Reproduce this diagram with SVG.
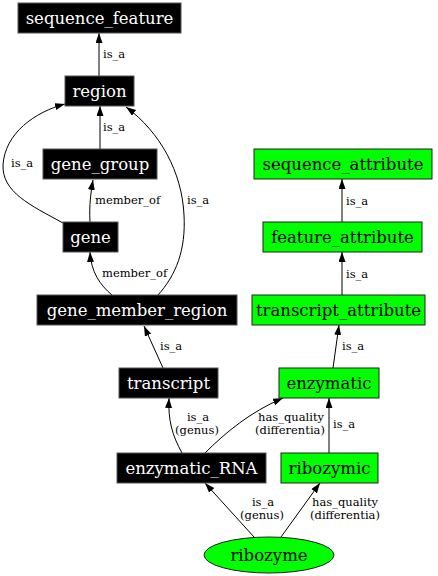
<svg xmlns="http://www.w3.org/2000/svg" width="438" height="576" viewBox="0 0 438 576">
<defs>
<marker id="arr" markerUnits="userSpaceOnUse" markerWidth="11" markerHeight="8" refX="10" refY="3.5" orient="auto">
<path d="M0,0 L10,3.5 L0,7 z" fill="#000"/>
</marker>
<style>
.bn rect{fill:#000;stroke:#555;stroke-width:1}
.gn rect,.gn ellipse{fill:#00ff00;stroke:#222;stroke-width:1}
.bn text{fill:#fff}
.gn text{fill:#000}
.node text{font-family:"DejaVu Serif",serif;font-size:16.5px;text-anchor:middle}
.edges path{fill:none;stroke:#000;stroke-width:1;marker-end:url(#arr)}
.edges text{font-family:"DejaVu Serif",serif;font-size:11.5px;fill:#000}
.edges text.m{text-anchor:middle}
</style>
</defs>
<rect width="438" height="576" fill="#fff"/>
<g id="edges" class="edges">
<path d="M99,76 L99,33"/>
<text x="103" y="58">is_a</text>
<path d="M100,149 L100,106"/>
<text x="103" y="131">is_a</text>
<path d="M63,223 C30,205 2,192 3,165 C5,133 35,112 65,104"/>
<text x="11" y="167">is_a</text>
<path d="M90,222 C89,205 91,192 93,180"/>
<text x="95" y="204">member_of</text>
<path d="M112,295 C100,285 91,272 90,252"/>
<text x="102" y="277">member_of</text>
<path d="M158,295 C176,275 186,250 184,215 C182,172 160,132 126,107"/>
<text x="187" y="204">is_a</text>
<path d="M163,368 L144,326"/>
<text x="160" y="350">is_a</text>
<path d="M182,453 C172,435 168,420 169,398"/>
<text class="m" x="198" y="421">is_a</text>
<text class="m" x="197" y="434">(genus)</text>
<path d="M205,453 C225,433 250,412 283,398"/>
<text class="m" x="291" y="421">has_quality</text>
<text class="m" x="290" y="434">(differentia)</text>
<path d="M329,453 L329,398"/>
<text x="333" y="428">is_a</text>
<path d="M254,537 L205,483"/>
<text class="m" x="263" y="506">is_a</text>
<text class="m" x="262" y="519">(genus)</text>
<path d="M281,537 L320,483"/>
<text class="m" x="345" y="506">has_quality</text>
<text class="m" x="345" y="519">(differentia)</text>
<path d="M333,368 L339,325"/>
<text x="342" y="350">is_a</text>
<path d="M342,295 L342,252"/>
<text x="346" y="278">is_a</text>
<path d="M342,222 L342,179"/>
<text x="346" y="205">is_a</text>
</g>
<g id="sequence_feature" class="node bn"><rect x="18" y="3" width="163" height="30"/><text x="99.5" y="24">sequence_feature</text></g>
<g id="region" class="node bn"><rect x="65" y="76" width="69" height="30"/><text x="99.5" y="97">region</text></g>
<g id="gene_group" class="node bn"><rect x="43" y="149" width="114" height="30"/><text x="100" y="170">gene_group</text></g>
<g id="gene" class="node bn"><rect x="63" y="222" width="55" height="30"/><text x="90.5" y="243">gene</text></g>
<g id="gene_member_region" class="node bn"><rect x="37" y="295" width="200" height="30"/><text x="137" y="316">gene_member_region</text></g>
<g id="transcript" class="node bn"><rect x="119" y="368" width="99" height="30"/><text x="168.5" y="389">transcript</text></g>
<g id="enzymatic_RNA" class="node bn"><rect x="117" y="453" width="149" height="30"/><text x="191.5" y="474">enzymatic_RNA</text></g>
<g id="sequence_attribute" class="node gn"><rect x="254" y="149" width="178" height="30"/><text x="343" y="170">sequence_attribute</text></g>
<g id="feature_attribute" class="node gn"><rect x="263" y="222" width="159" height="30"/><text x="342.5" y="243">feature_attribute</text></g>
<g id="transcript_attribute" class="node gn"><rect x="252" y="295" width="173" height="30"/><text x="338.5" y="316">transcript_attribute</text></g>
<g id="enzymatic" class="node gn"><rect x="279" y="368" width="100" height="30"/><text x="329" y="389">enzymatic</text></g>
<g id="ribozymic" class="node gn"><rect x="281" y="453" width="97" height="30"/><text x="329.5" y="474">ribozymic</text></g>
<g id="ribozyme" class="node gn"><ellipse cx="269" cy="555" rx="65" ry="18"/><text x="269" y="561">ribozyme</text></g>
</svg>
